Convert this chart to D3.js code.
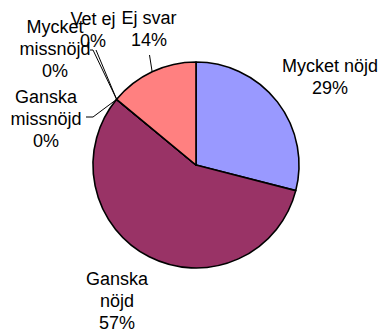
<!DOCTYPE html>
<html>
<head>
<meta charset="utf-8">
<script src="https://cdn.jsdelivr.net/npm/d3@7"></script>
<style>
  html, body { margin: 0; padding: 0; background: #fff; }
  svg { display: block; }
  text { font-family: "Liberation Sans", Arial, sans-serif; font-size: 18px; fill: #000; }
</style>
</head>
<body>
<svg id="chart" width="381" height="336"></svg>
<script>
// Survey answers, share of respondents (%)
const categories = ["Mycket nöjd", "Ganska nöjd", "Ganska missnöjd", "Mycket missnöjd", "Vet ej", "Ej svar"];
const shares = [29, 57, 0, 0, 0, 14];
const colors = ["#9999FF", "#993366", "#FFFFCC", "#CCFFFF", "#660066", "#FF8080"];

// Label text lines for each category (name split as it wraps, then the percentage)
const labelLines = [
  ["Mycket nöjd"],
  ["Ganska", "nöjd"],
  ["Ganska", "missnöjd"],
  ["Mycket", "missnöjd"],
  ["Vet ej"],
  ["Ej svar"]
];

// Label placement: centre x, first baseline y, and leader line start points
const labelLayout = {
  "Mycket nöjd":     { x: 330, y: 72,  leader: null },
  "Ganska nöjd":     { x: 117, y: 285, leader: null },
  "Ganska missnöjd": { x: 46,  y: 103, leader: [[86, 117], [93, 117]] },
  "Mycket missnöjd": { x: 55,  y: 33,  leader: [[90, 50], [93, 50]] },
  "Vet ej":          { x: 93,  y: 25,  leader: [[96, 50]] },
  "Ej svar":         { x: 149, y: 24,  leader: [[149.5, 55]] }
};
const lineHeight = 22;

const cx = 196, cy = 165, radius = 103;

const svg = d3.select("#chart");
const g = svg.append("g").attr("transform", `translate(${cx},${cy})`);

const data = categories.map((c, i) => ({ name: c, value: shares[i], color: colors[i], lines: labelLines[i] }));

const pie = d3.pie().sort(null).value(d => d.value);
const arc = d3.arc().innerRadius(0).outerRadius(radius);
const arcs = pie(data);

g.selectAll("path.slice")
  .data(arcs)
  .enter().append("path")
  .attr("class", "slice")
  .attr("d", arc)
  .attr("fill", d => d.data.color)
  .attr("stroke", "#000")
  .attr("stroke-width", 1.6)
  .attr("stroke-linejoin", "round");

// Leader lines run from the label to the middle of the slice's outer edge
arcs.forEach(a => {
  const lay = labelLayout[a.data.name];
  if (!lay.leader) return;
  const mid = (a.startAngle + a.endAngle) / 2;
  const px = cx + radius * Math.sin(mid);
  const py = cy - radius * Math.cos(mid);
  const pts = lay.leader.concat([[px, py]]);
  svg.append("path")
    .attr("d", d3.line()(pts))
    .attr("fill", "none")
    .attr("stroke", "#000")
    .attr("stroke-width", 1);
});

// Labels: category name lines followed by the percentage
const fmt = d => d3.format(".0f")(d) + "%";
arcs.forEach(a => {
  const lay = labelLayout[a.data.name];
  const t = svg.append("text")
    .attr("text-anchor", "middle")
    .attr("x", lay.x)
    .attr("y", lay.y);
  const lines = a.data.lines.concat([fmt(a.data.value)]);
  lines.forEach((ln, i) => {
    t.append("tspan")
      .attr("x", lay.x)
      .attr("dy", i === 0 ? 0 : lineHeight)
      .text(ln);
  });
});
</script>
</body>
</html>
